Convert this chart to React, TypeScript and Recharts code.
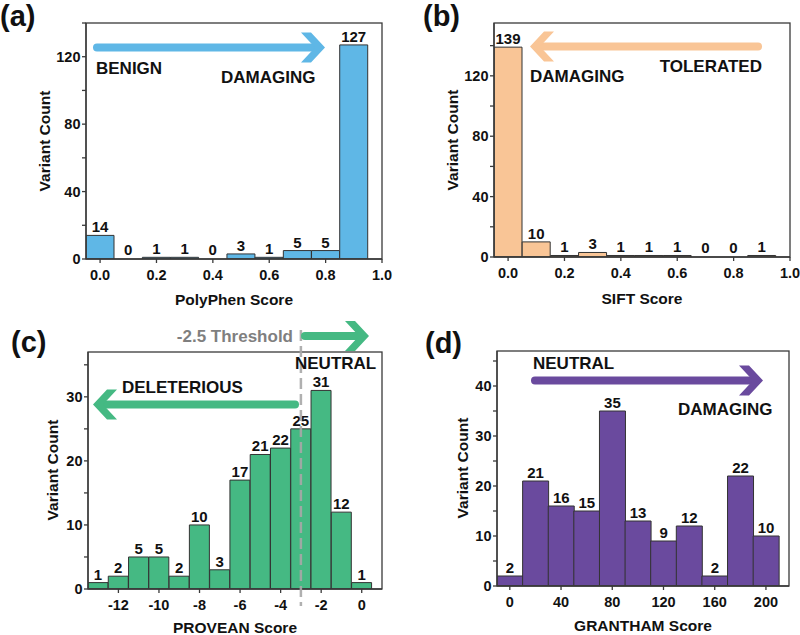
import React from "react";
import { BarChart, Bar, XAxis, YAxis, LabelList, Rectangle } from "recharts";

// histogram bins (bin centres) and counts
const POLYPHEN_BINS = [0, 0.1, 0.2, 0.3, 0.4, 0.5, 0.6, 0.7, 0.8, 0.9];
const POLYPHEN_COUNTS = [14, 0, 1, 1, 0, 3, 1, 5, 5, 127];

const SIFT_BINS = [0, 0.1, 0.2, 0.3, 0.4, 0.5, 0.6, 0.7, 0.8, 0.9];
const SIFT_COUNTS = [139, 10, 1, 3, 1, 1, 1, 0, 0, 1];

const PROVEAN_BINS = [-13, -12, -11, -10, -9, -8, -7, -6, -5, -4, -3, -2, -1, 0];
const PROVEAN_COUNTS = [1, 2, 5, 5, 2, 10, 3, 17, 21, 22, 25, 31, 12, 1];
const PROVEAN_THRESHOLD = -3;

const GRANTHAM_BINS = [0, 20, 40, 60, 80, 100, 120, 140, 160, 180, 200];
const GRANTHAM_COUNTS = [2, 21, 16, 15, 35, 13, 9, 12, 2, 22, 10];

// tick labels
const SCORE_TICKS = [0, 0.2, 0.4, 0.6, 0.8, 1.0];
const PROVEAN_TICKS = [-12, -10, -8, -6, -4, -2, 0];
const GRANTHAM_TICKS = [0, 40, 80, 120, 160, 200];
const COUNT_TICKS_140 = [0, 20, 40, 60, 80, 100, 120, 140];
const COUNT_TICKS_35 = [0, 5, 10, 15, 20, 25, 30, 35];
const COUNT_TICKS_45 = [0, 5, 10, 15, 20, 25, 30, 35, 40, 45];

const W = 800;
const H = 635;
const FONT = "'Liberation Sans', Arial, Helvetica, sans-serif";
const AXIS = "#3a3a3a";
const X_AXIS_H = 30;
const Y_AXIS_W = 40;

type Box = { left: number; top: number; right: number; bottom: number };

const BOX_A: Box = { left: 86, top: 23, right: 382, bottom: 259 };
const BOX_B: Box = { left: 494, top: 23, right: 790, bottom: 257 };
const BOX_C: Box = { left: 88, top: 352, right: 382, bottom: 589 };
const BOX_D: Box = { left: 497, top: 351, right: 789, bottom: 586 };

const C_DOMAIN: [number, number] = [-13.5, 1];

const tickStyle = { fill: "#111", fontSize: 14.5, fontWeight: 700, fontFamily: FONT };

// empty bins keep their label but draw no rectangle
function BinShape(props: any) {
  const v = props.payload ? props.payload.count : props.count;
  if (!v) return <g />;
  return <Rectangle {...props} />;
}

function Histogram({
  bins,
  counts,
  box,
  xDomain,
  yDomain,
  xTicks,
  yTicks,
  yMajor,
  xDigits,
  fill,
}: {
  bins: number[];
  counts: number[];
  box: Box;
  xDomain: [number, number];
  yDomain: [number, number];
  xTicks: number[];
  yTicks: number[];
  yMajor: number;
  xDigits: number;
  fill: string;
}) {
  const data = bins.map((b, i) => ({ bin: b, count: counts[i] }));
  return (
    <div style={{ position: "absolute", left: 0, top: 0 }}>
      <BarChart
        width={W}
        height={H}
        data={data}
        margin={{
          top: box.top,
          left: box.left - Y_AXIS_W,
          right: W - box.right,
          bottom: H - box.bottom - X_AXIS_H,
        }}
        barCategoryGap={0}
        barGap={0}
      >
        <XAxis
          type="number"
          dataKey="bin"
          domain={xDomain}
          allowDataOverflow
          ticks={xTicks}
          interval={0}
          tickFormatter={(v: number) => (xDigits ? v.toFixed(xDigits) : String(v))}
          height={X_AXIS_H}
          stroke={AXIS}
          strokeWidth={1.3}
          tickSize={4}
          tickMargin={6.5}
          tick={tickStyle}
        />
        <YAxis
          type="number"
          domain={yDomain}
          allowDataOverflow
          ticks={yTicks}
          interval={0}
          tickFormatter={(v: number) => (v % yMajor === 0 ? String(v) : "")}
          width={Y_AXIS_W}
          stroke={AXIS}
          strokeWidth={1.3}
          tickSize={4}
          tickMargin={1.5}
          tick={tickStyle}
        />
        <Bar
          dataKey="count"
          fill={fill}
          stroke="#333"
          strokeWidth={1}
          minPointSize={1}
          shape={BinShape}
          isAnimationActive={false}
        >
          <LabelList
            dataKey="count"
            position="top"
            offset={3}
            fill="#111"
            fontSize={15}
            fontWeight={700}
            fontFamily={FONT}
          />
        </Bar>
      </BarChart>
    </div>
  );
}

function Arrow({ from, to, y, color }: { from: number; to: number; y: number; color: string }) {
  const dir = Math.sign(to - from);
  const L = 14;
  const Hh = 15;
  const Wd = 10;
  const pts = [
    [to - dir * (L + Wd), y - Hh],
    [to - dir * L, y - Hh],
    [to, y],
    [to - dir * L, y + Hh],
    [to - dir * (L + Wd), y + Hh],
    [to - dir * Wd, y],
  ]
    .map((p) => p.join(","))
    .join(" ");
  return (
    <g>
      <line x1={from} y1={y} x2={to - dir * Wd} y2={y} stroke={color} strokeWidth={8} strokeLinecap="round" />
      <polygon points={pts} fill={color} />
    </g>
  );
}

function Frame({ box }: { box: Box }) {
  return (
    <rect
      x={box.left}
      y={box.top}
      width={box.right - box.left}
      height={box.bottom - box.top}
      fill="none"
      stroke={AXIS}
      strokeWidth={1.3}
    />
  );
}

function YTitle({ x, y }: { x: number; y: number }) {
  return (
    <text x={x} y={y} transform={`rotate(-90 ${x} ${y})`} textAnchor="middle" fontSize={15.5} fontWeight={700}>
      Variant Count
    </text>
  );
}

const BLUE = "#5fb7e6";
const PEACH = "#f9c596";
const GREEN = "#45b983";
const PURPLE = "#6a4a9e";

export default function App() {
  const cx = (v: number) =>
    BOX_C.left + ((v - C_DOMAIN[0]) / (C_DOMAIN[1] - C_DOMAIN[0])) * (BOX_C.right - BOX_C.left);
  const tx = cx(PROVEAN_THRESHOLD);
  return (
    <div
      style={{
        position: "absolute",
        left: 0,
        top: 0,
        width: W,
        height: H,
        background: "#fff",
        overflow: "hidden",
        fontFamily: FONT,
      }}
    >
      <Histogram
        bins={POLYPHEN_BINS}
        counts={POLYPHEN_COUNTS}
        box={BOX_A}
        xDomain={[-0.05, 1]}
        yDomain={[0, 140]}
        xTicks={SCORE_TICKS}
        yTicks={COUNT_TICKS_140}
        yMajor={40}
        xDigits={1}
        fill={BLUE}
      />
      <Histogram
        bins={SIFT_BINS}
        counts={SIFT_COUNTS}
        box={BOX_B}
        xDomain={[-0.05, 1]}
        yDomain={[0, 155]}
        xTicks={SCORE_TICKS}
        yTicks={COUNT_TICKS_140}
        yMajor={40}
        xDigits={1}
        fill={PEACH}
      />
      <Histogram
        bins={PROVEAN_BINS}
        counts={PROVEAN_COUNTS}
        box={BOX_C}
        xDomain={C_DOMAIN}
        yDomain={[0, 37]}
        xTicks={PROVEAN_TICKS}
        yTicks={COUNT_TICKS_35}
        yMajor={10}
        xDigits={0}
        fill={GREEN}
      />
      <Histogram
        bins={GRANTHAM_BINS}
        counts={GRANTHAM_COUNTS}
        box={BOX_D}
        xDomain={[-10, 218]}
        yDomain={[0, 47]}
        xTicks={GRANTHAM_TICKS}
        yTicks={COUNT_TICKS_45}
        yMajor={10}
        xDigits={0}
        fill={PURPLE}
      />

      {/* frames, titles and annotations on top */}
      <svg
        width={W}
        height={H}
        style={{ position: "absolute", left: 0, top: 0, pointerEvents: "none" }}
        fontFamily={FONT}
        fill="#111"
      >
        <Frame box={BOX_A} />
        <Frame box={BOX_B} />
        <Frame box={BOX_C} />
        <Frame box={BOX_D} />

        <g fontSize={29} fontWeight={700}>
          <text x={0} y={26}>(a)</text>
          <text x={423} y={26}>(b)</text>
          <text x={11} y={352}>(c)</text>
          <text x={425} y={353}>(d)</text>
        </g>

        <g fontSize={15.5} fontWeight={700} textAnchor="middle">
          <text x={234} y={305}>PolyPhen Score</text>
          <text x={642} y={304}>SIFT Score</text>
          <text x={235} y={633}>PROVEAN Score</text>
          <text x={643} y={631}>GRANTHAM Score</text>
        </g>
        <YTitle x={50} y={141} />
        <YTitle x={458} y={140} />
        <YTitle x={58} y={470} />
        <YTitle x={468} y={468} />

        <line
          x1={tx}
          y1={330}
          x2={tx}
          y2={606}
          stroke="#a8a8a8"
          strokeWidth={2.5}
          strokeDasharray="11 5"
          opacity={0.9}
        />

        <Arrow from={97} to={325} y={47.5} color={BLUE} />
        <Arrow from={758} to={530} y={46.5} color={PEACH} />
        <Arrow from={295} to={93} y={404.5} color={GREEN} />
        <Arrow from={305} to={369} y={336} color={GREEN} />
        <Arrow from={535} to={763} y={380.5} color={PURPLE} />

        <g fontSize={17} fontWeight={700}>
          <text x={96} y={74}>BENIGN</text>
          <text x={221} y={83}>DAMAGING</text>
          <text x={530} y={82}>DAMAGING</text>
          <text x={762} y={72} textAnchor="end">TOLERATED</text>
          <text x={122} y={393}>DELETERIOUS</text>
          <text x={295} y={369}>NEUTRAL</text>
          <text x={293} y={342} textAnchor="end" fill="#7f7f7f">-2.5 Threshold</text>
          <text x={533} y={369}>NEUTRAL</text>
          <text x={678} y={415}>DAMAGING</text>
        </g>
      </svg>
    </div>
  );
}
